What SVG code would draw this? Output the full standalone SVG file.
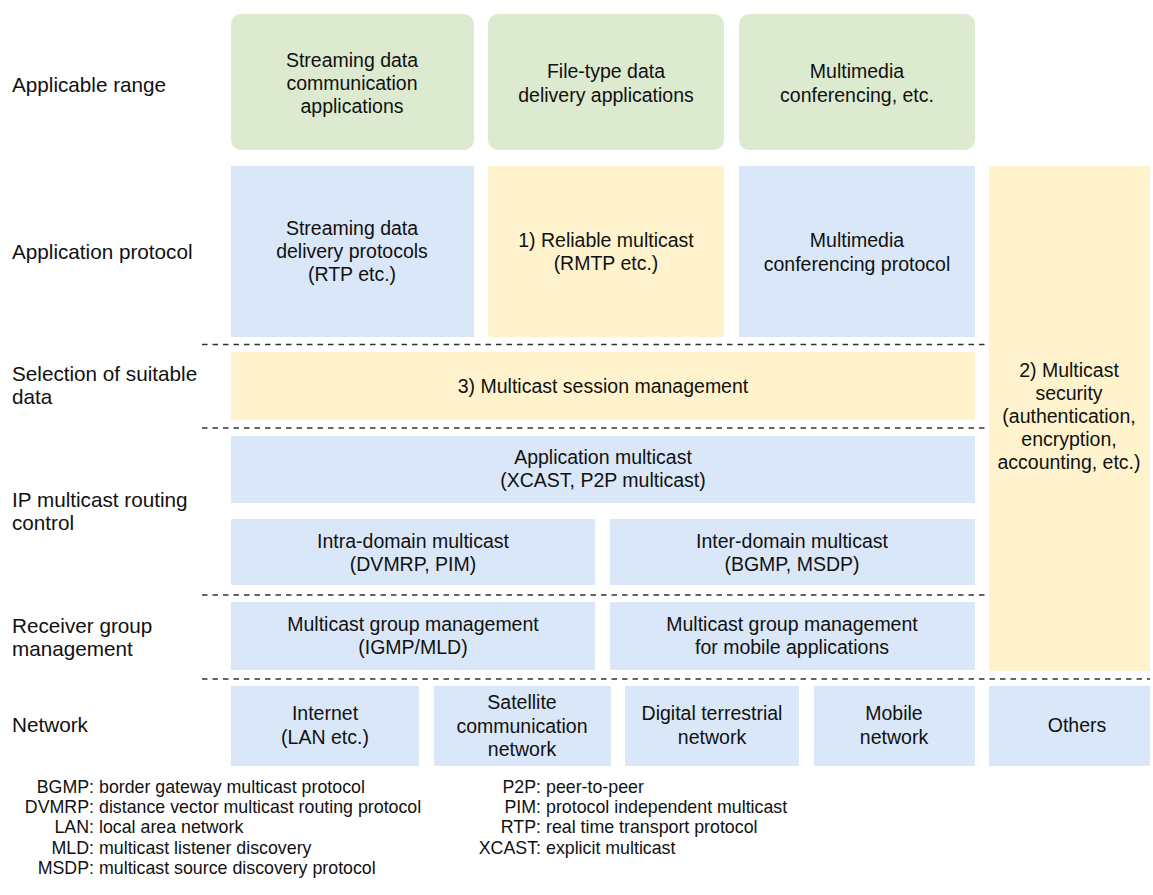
<svg xmlns="http://www.w3.org/2000/svg" width="1153" height="895" viewBox="0 0 1153 895">
  <style>
    text { font-family: "Liberation Sans", Arial, Helvetica, sans-serif; font-size: 19.5px; fill: #111; }
    .c { text-anchor: middle; }
    .e { text-anchor: end; }
    .lbl { font-size: 20.7px; }
    .abbr { font-size: 17.8px; }
    .green { fill: #dceacf; }
    .blue { fill: #dae7f8; }
    .yellow { fill: #fef3cc; }
    .sep { stroke: #333; stroke-width: 1.3; stroke-dasharray: 5.5 5; fill: none; }
  </style>

  <!-- row labels -->
  <g id="row-labels">
    <text class="lbl" x="12" y="92">Applicable range</text>
    <text class="lbl" x="12" y="259">Application protocol</text>
    <text class="lbl" x="12" y="381">Selection of suitable</text>
    <text class="lbl" x="12" y="404">data</text>
    <text class="lbl" x="12" y="507">IP multicast routing</text>
    <text class="lbl" x="12" y="530">control</text>
    <text class="lbl" x="12" y="633">Receiver group</text>
    <text class="lbl" x="12" y="656">management</text>
    <text class="lbl" x="12" y="732">Network</text>
  </g>

  <!-- layer separators -->
  <g id="separators">
    <line class="sep" x1="202" y1="344.5" x2="988" y2="344.5"/>
    <line class="sep" x1="202" y1="428" x2="988" y2="428"/>
    <line class="sep" x1="202" y1="595" x2="988" y2="595"/>
    <line class="sep" x1="202" y1="679" x2="1150" y2="679"/>
  </g>

  <!-- applicable range -->
  <g id="app-streaming">
    <rect class="green" x="231" y="14" width="243" height="136" rx="10"/>
    <text class="c" x="352" y="67">Streaming data</text>
    <text class="c" x="352" y="90">communication</text>
    <text class="c" x="352" y="113">applications</text>
  </g>
  <g id="app-file">
    <rect class="green" x="488" y="14" width="236" height="136" rx="10"/>
    <text class="c" x="606" y="78">File-type data</text>
    <text class="c" x="606" y="102">delivery applications</text>
  </g>
  <g id="app-conferencing">
    <rect class="green" x="739" y="14" width="236" height="136" rx="10"/>
    <text class="c" x="857" y="78">Multimedia</text>
    <text class="c" x="857" y="102">conferencing, etc.</text>
  </g>

  <!-- application protocol -->
  <g id="proto-streaming">
    <rect class="blue" x="231" y="166" width="243" height="171"/>
    <text class="c" x="352" y="235">Streaming data</text>
    <text class="c" x="352" y="258">delivery protocols</text>
    <text class="c" x="352" y="281">(RTP etc.)</text>
  </g>
  <g id="proto-reliable">
    <rect class="yellow" x="488" y="166" width="236" height="171"/>
    <text class="c" x="606" y="247">1) Reliable multicast</text>
    <text class="c" x="606" y="270">(RMTP etc.)</text>
  </g>
  <g id="proto-conferencing">
    <rect class="blue" x="739" y="166" width="236" height="171"/>
    <text class="c" x="857" y="247">Multimedia</text>
    <text class="c" x="857" y="271">conferencing protocol</text>
  </g>

  <!-- multicast security spans all middle layers -->
  <g id="security">
    <rect class="yellow" x="989" y="166" width="161" height="505"/>
    <text class="c" x="1069" y="377">2) Multicast</text>
    <text class="c" x="1069" y="400">security</text>
    <text class="c" x="1069" y="423">(authentication,</text>
    <text class="c" x="1069" y="446">encryption,</text>
    <text class="c" x="1069" y="469">accounting, etc.)</text>
  </g>

  <!-- selection of suitable data -->
  <g id="session-management">
    <rect class="yellow" x="231" y="352" width="744" height="68"/>
    <text class="c" x="603" y="393">3) Multicast session management</text>
  </g>

  <!-- routing control -->
  <g id="application-multicast">
    <rect class="blue" x="231" y="436" width="744" height="67"/>
    <text class="c" x="603" y="464">Application multicast</text>
    <text class="c" x="603" y="487">(XCAST, P2P multicast)</text>
  </g>
  <g id="intra-domain">
    <rect class="blue" x="231" y="519" width="364" height="66"/>
    <text class="c" x="413" y="548">Intra-domain multicast</text>
    <text class="c" x="413" y="571">(DVMRP, PIM)</text>
  </g>
  <g id="inter-domain">
    <rect class="blue" x="610" y="519" width="365" height="66"/>
    <text class="c" x="792" y="548">Inter-domain multicast</text>
    <text class="c" x="792" y="571">(BGMP, MSDP)</text>
  </g>

  <!-- receiver group management -->
  <g id="group-mgmt">
    <rect class="blue" x="231" y="602" width="364" height="68"/>
    <text class="c" x="413" y="631">Multicast group management</text>
    <text class="c" x="413" y="654">(IGMP/MLD)</text>
  </g>
  <g id="group-mgmt-mobile">
    <rect class="blue" x="610" y="602" width="365" height="68"/>
    <text class="c" x="792" y="631">Multicast group management</text>
    <text class="c" x="792" y="654">for mobile applications</text>
  </g>

  <!-- network -->
  <g id="net-internet">
    <rect class="blue" x="231" y="686" width="188" height="80"/>
    <text class="c" x="325" y="720">Internet</text>
    <text class="c" x="325" y="744">(LAN etc.)</text>
  </g>
  <g id="net-satellite">
    <rect class="blue" x="434" y="686" width="177" height="80"/>
    <text class="c" x="522" y="709">Satellite</text>
    <text class="c" x="522" y="733">communication</text>
    <text class="c" x="522" y="756">network</text>
  </g>
  <g id="net-terrestrial">
    <rect class="blue" x="625" y="686" width="174" height="80"/>
    <text class="c" x="712" y="720">Digital terrestrial</text>
    <text class="c" x="712" y="744">network</text>
  </g>
  <g id="net-mobile">
    <rect class="blue" x="814" y="686" width="161" height="80"/>
    <text class="c" x="894" y="720">Mobile</text>
    <text class="c" x="894" y="744">network</text>
  </g>
  <g id="net-others">
    <rect class="blue" x="989" y="686" width="161" height="80"/>
    <text class="c" x="1077" y="732">Others</text>
  </g>

  <!-- abbreviations -->
  <g id="legend" class="abbr">
    <text class="abbr e" x="94" y="793">BGMP:</text>
    <text class="abbr" x="99" y="793">border gateway multicast protocol</text>
    <text class="abbr e" x="94" y="813">DVMRP:</text>
    <text class="abbr" x="99" y="813">distance vector multicast routing protocol</text>
    <text class="abbr e" x="94" y="833">LAN:</text>
    <text class="abbr" x="99" y="833">local area network</text>
    <text class="abbr e" x="94" y="854">MLD:</text>
    <text class="abbr" x="99" y="854">multicast listener discovery</text>
    <text class="abbr e" x="94" y="874">MSDP:</text>
    <text class="abbr" x="99" y="874">multicast source discovery protocol</text>
    <text class="abbr e" x="541" y="793">P2P:</text>
    <text class="abbr" x="546" y="793">peer-to-peer</text>
    <text class="abbr e" x="541" y="813">PIM:</text>
    <text class="abbr" x="546" y="813">protocol independent multicast</text>
    <text class="abbr e" x="541" y="833">RTP:</text>
    <text class="abbr" x="546" y="833">real time transport protocol</text>
    <text class="abbr e" x="541" y="854">XCAST:</text>
    <text class="abbr" x="546" y="854">explicit multicast</text>
  </g>
</svg>
